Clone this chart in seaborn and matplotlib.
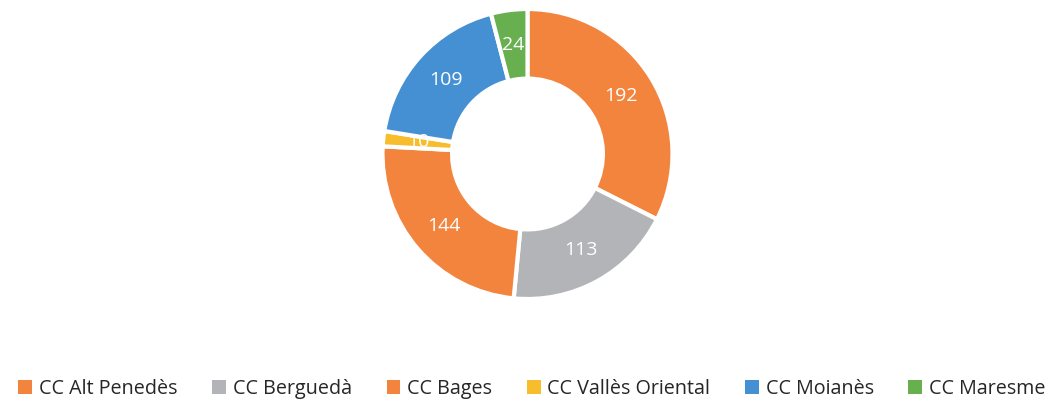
import matplotlib
matplotlib.use("Agg")
import matplotlib.pyplot as plt
from matplotlib.patches import Patch
import seaborn as sns

sns.set_theme(style="white")
plt.rcParams["font.family"] = ["Open Sans", "DejaVu Sans"]

# data, clockwise from 12 o'clock
labels = ["CC Alt Penedès", "CC Berguedà", "CC Bages", "CC Vallès Oriental", "CC Moianès", "CC Maresme"]
values = [192, 113, 144, 10, 109, 24]
colors = ["#F3843E", "#B3B4B7", "#F3843E", "#F8BD2C", "#4590D2", "#68B04F"]

W, H = 1057, 405
fig = plt.figure(figsize=(W / 100, H / 100), dpi=100)
cx, cy, r = 527.5, 154, 145
ax = fig.add_axes([(cx - r) / W, (H - cy - r) / H, 2 * r / W, 2 * r / H])

wedges, texts = ax.pie(
    values, colors=colors, startangle=90, counterclock=False,
    wedgeprops=dict(width=0.48, edgecolor="white", linewidth=3),
    labels=[str(v) for v in values], labeldistance=0.76,
    textprops=dict(color="white", fontsize=14, ha="center", va="center"),
)
ax.set_xlim(-1, 1)
ax.set_ylim(-1, 1)
ax.set_aspect("equal")
ax.axis("off")

handles = [Patch(facecolor=c, edgecolor="none") for c in colors]
fig.legend(handles, labels, loc="center", bbox_to_anchor=(532 / W, 1 - 389 / H),
           ncol=6, frameon=False, fontsize=14.2, handlelength=0.7, handleheight=0.7,
           handletextpad=0.35, columnspacing=1.75, labelcolor="#262626")

fig.savefig("out.png", dpi=100)
